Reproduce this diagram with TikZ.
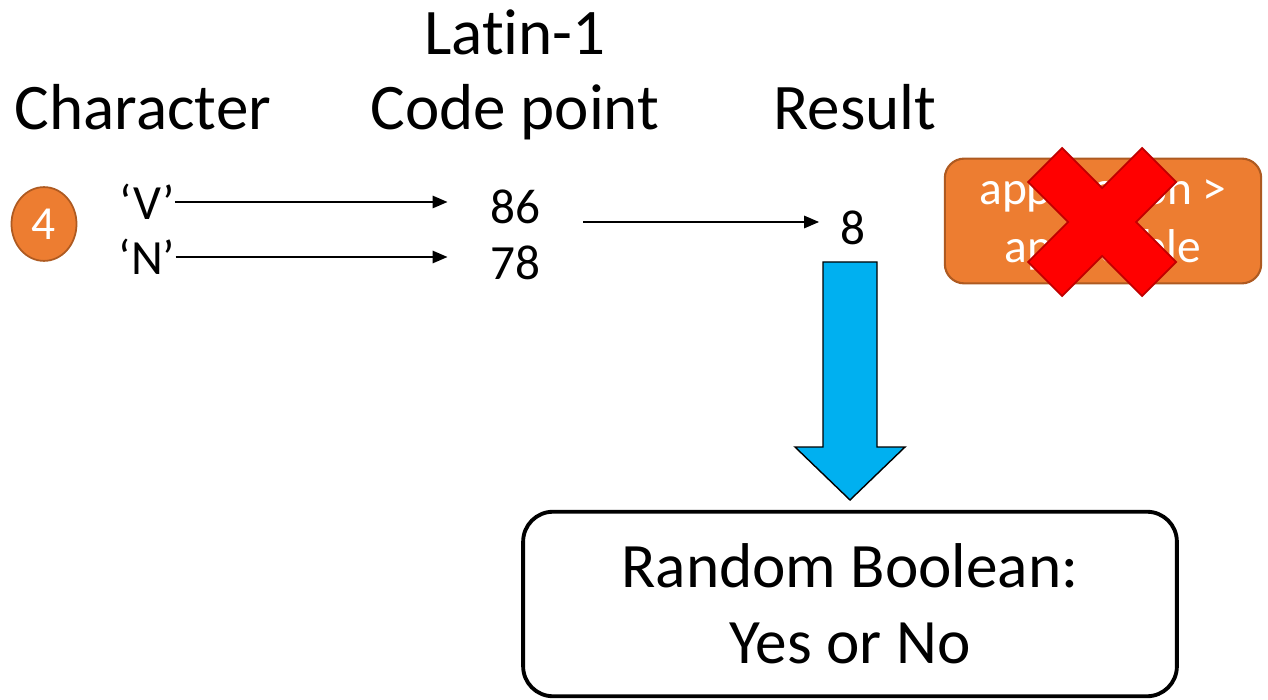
\documentclass[tikz,border=0pt]{standalone}
\usepackage{fontspec}
\setmainfont{Carlito}[Ligatures=NoCommon]
\usetikzlibrary{calc,arrows.meta,shapes.geometric}
\definecolor{boxorange}{HTML}{ED7D31}
\definecolor{boxorangeline}{HTML}{AE5A21}
\definecolor{crossred}{HTML}{FF0000}
\definecolor{crossline}{HTML}{C00000}
\definecolor{arrowblue}{HTML}{00B0F0}
\tikzset{
	head/.style={font=\fontsize{37}{44}\selectfont, anchor=base, inner sep=0},
	val/.style={font=\fontsize{28}{34}\selectfont, inner sep=0},
	arr/.style={-{Triangle[length=8.5pt,width=7pt]}, line width=1.1pt},
}

\begin{document}
\begin{tikzpicture}[x=0.2mm, y=-0.2mm]
			%%%%% START %%%%%
			\useasboundingbox (0,0) rectangle (1268,700);
			
			\node[head] (latin) at (515,55) {Latin-1};
			\node[head] (charhd) at (143,130) {Character};
			\node[head] (codehd) at (515,130) {Code point};
			\node[head] (reshd) at (855,130) {Result};
			
			\node[ellipse, draw=boxorangeline, line width=1pt, fill=boxorange, minimum width=37pt, minimum height=42pt, inner sep=0, text=white, font=\fontsize{27}{32}\selectfont] (step4) at (44,224) {4};
			
			\node[val] (chV) at (147,202) {‘V’};
			\node[val] (chN) at (147,257) {‘N’};
			\node[val] (n86) at (515,207) {86};
			\node[val] (n78) at (515,263) {78};
			\node[val] (res8) at (853,228) {8};
			
			\draw[arr, shorten >=24pt] (chV.east) -- (chV.east -| n86.west);
			\draw[arr, shorten >=24pt] (chN.east) -- (chN.east -| n78.west);
			
			\coordinate (split) at (583,222);
			\draw[arr, shorten >=12pt] (split) -- (split -| res8.west);
			
			\node[draw=boxorangeline, fill=boxorange, line width=1.2pt, rounded corners=11pt, minimum width=180pt, minimum height=71pt, text=white, align=center, font=\fontsize{27}{33}\selectfont] (rule) at (1103,221) {application >\\applicable};
			
			% red cross over the rule
			\begin{scope}[shift={(1102,222)}]
				\draw[crossline, fill=crossred, line width=1pt] (0,-34) -- (40,-74) -- (74,-40) -- (34,0) -- (74,40) -- (40,74) -- (0,34) -- (-40,74) -- (-74,40) -- (-34,0) -- (-74,-40) -- (-40,-74) -- cycle;
			\end{scope}
			
			% block arrow down to the answer
			\draw[fill=arrowblue, line width=0.8pt] (823,262) -- (877,262) -- (877,447) -- (905,447) -- (850,500) -- (795,447) -- (823,447) -- cycle;
			
			\node[draw, line width=2.2pt, rounded corners=17pt, minimum width=372pt, minimum height=105pt, align=center, font=\fontsize{36}{43}\selectfont] (verdict) at (850,604) {Random Boolean:\\Yes or No};
			
			%%%%% END %%%%%
\end{tikzpicture}
\end{document}
